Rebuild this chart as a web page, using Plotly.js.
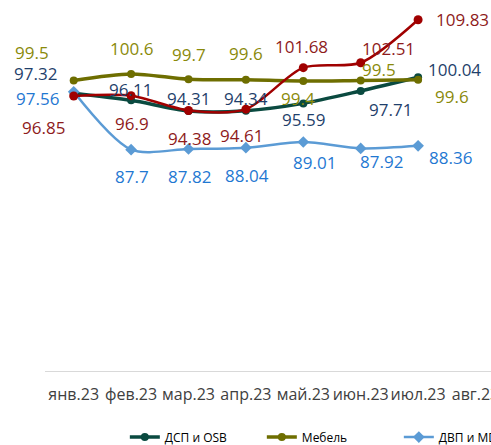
<!DOCTYPE html>
<html>
<head>
<meta charset="utf-8">
<script src="https://cdn.plot.ly/plotly-3.0.1.min.js"></script>
<style>html,body{margin:0;padding:0;background:#fff;}#chart{width:491px;height:445px;}</style>
</head>
<body>
<div id="chart"></div>
<script>
const categories = ['янв.23','фев.23','мар.23','апр.23','май.23','июн.23','июл.23','авг.23'];
const dspOsb = [97.32, 96.11, 94.31, 94.34, 95.59, 97.71, 100.04];
const mebel  = [99.5, 100.6, 99.7, 99.6, 99.4, 99.5, 99.6];
const dvpMdf = [97.56, 87.7, 87.82, 88.04, 89.01, 87.92, 88.36];
const fourth = [96.85, 96.9, 94.38, 94.61, 101.68, 102.51, 109.83];
const seriesNames = ['ДСП и OSB', 'Мебель', 'ДВП и MDF', ''];

// label offsets (px) – styling only
const offDsp = [[-38,-20],[-1,-11],[0,-12],[0,-12],[0,16],[30,19],[36,-8]];
const offMeb = [[-42,-28],[0,-25],[0,-25],[0,-26],[-5,17],[18,-11],[34,17]];
const offDvp = [[-36,7],[1,27],[1,28],[1,28],[11,20],[21,13],[32,12]];
const offRed = [[-30,32],[1,28],[1,28],[-4,26],[-2,-21],[28,-14],[44,0]];

const font = '"Open Sans", "Liberation Sans", sans-serif';
const xs = categories.slice(0, 7);

function tr(y, name, lineColor, width, symbol, msize, showleg) {
  return {
    x: xs, y: y, name: name, type: 'scatter', mode: 'lines+markers',
    line: {color: lineColor, width: width, shape: 'spline', smoothing: 0.8},
    marker: {color: lineColor, size: msize, symbol: symbol},
    showlegend: showleg, cliponaxis: false, hoverinfo: 'skip'
  };
}
const data = [
  tr(dspOsb, seriesNames[0], '#0A4A40', 3.5, 'circle', 8, true),
  tr(mebel, seriesNames[1], '#6E6E00', 3.5, 'circle', 8, true),
  tr(dvpMdf, seriesNames[2], '#5B9BD5', 2.5, 'diamond', 9, true),
  tr(fourth, seriesNames[3], '#A00000', 2.5, 'circle', 9, false)
];

const annotations = [];
function addLabels(vals, offs, color) {
  vals.forEach((v, i) => {
    annotations.push({
      x: xs[i], y: v, text: String(v), showarrow: false,
      xshift: offs[i][0], yshift: -offs[i][1],
      font: {family: font, size: 17, color: color}
    });
  });
}
addLabels(mebel, offMeb, '#8A8A0A');
addLabels(dspOsb, offDsp, '#1F3F6B');
addLabels(dvpMdf, offDvp, '#1F78D2');
addLabels(fourth, offRed, '#8E1B1B');

const layout = {
  width: 491, height: 445,
  margin: {l: 45, r: 0, t: 0, b: 74, autoexpand: false},
  paper_bgcolor: '#fff', plot_bgcolor: '#fff',
  showlegend: true,
  legend: {orientation: 'h', x: 0.179, xanchor: 'left', y: -0.178, yanchor: 'middle',
           entrywidth: 92, entrywidthmode: 'pixels',
           font: {family: font, size: 12, color: '#000'}, traceorder: 'normal'},
  xaxis: {type: 'category', categoryorder: 'array', categoryarray: categories,
          range: [-0.5, 7.27], showgrid: false, zeroline: false, automargin: false,
          showline: true, linecolor: '#d9d9d9', linewidth: 1, ticks: '',
          tickangle: 0, ticklabelstandoff: 9,
          tickfont: {family: font, size: 16, color: '#404040'}},
  yaxis: {range: [50, 113.2], visible: false, showgrid: false, zeroline: false},
  annotations: annotations
};
Plotly.newPlot('chart', data, layout, {displayModeBar: false, staticPlot: true});
</script>
</body>
</html>
